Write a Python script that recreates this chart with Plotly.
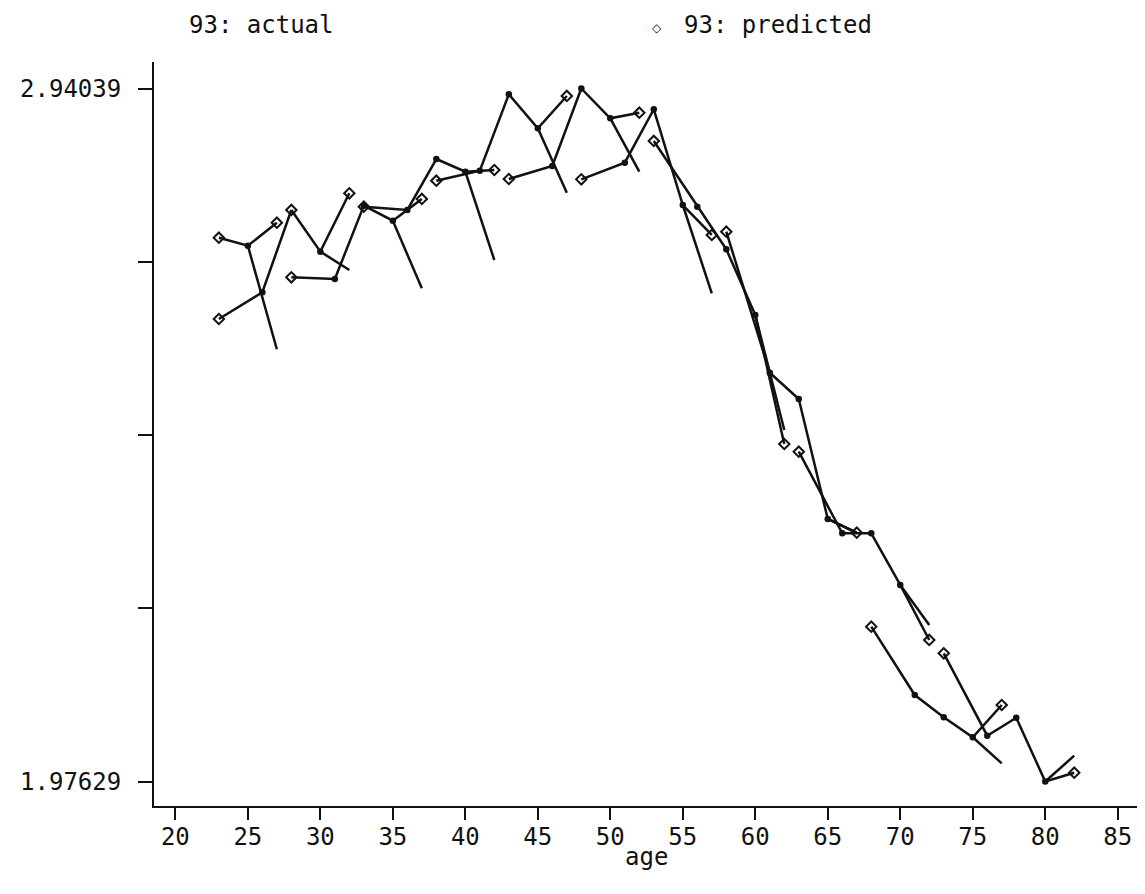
import plotly.graph_objects as go

# ---- data ----
base_age = [23, 28, 33, 38, 43, 48, 53, 58, 63, 68, 73, 78]
# actual value at the group's first age (b)
actual_b = [2.7328, 2.7714, 2.7774, 2.8423, 2.9323, 2.94039, 2.9115, 2.7167, 2.5084, 2.3216, 2.0656, 2.0650]
# actual value at age b+2
actual_b2 = [2.7217, 2.7134, 2.7565, 2.8247, 2.8850, 2.8989, 2.7783, 2.6253, 2.3415, 2.2497, 2.0378, 1.97629]
# predicted value at age b+4
pred_b4 = [2.7537, 2.7946, 2.7867, 2.8270, 2.9300, 2.9067, 2.7366, 2.4458, 2.3225, 2.1732, 2.0827, 1.9885]
# end of the second actual segment at age b+4
actual_b4 = [2.5776, 2.6879, 2.6624, 2.7018, 2.7954, 2.8247, 2.6555, 2.4653, 2.3220, 2.1940, 2.0016, 2.0122]
# predicted value at age b
pred_b = [2.6197, 2.6777, 2.7760, 2.8121, 2.8145, 2.8140, 2.8674, 2.7412, 2.4351, 2.1917, 2.1546, None]
# actual value at age b+3
actual_b3 = [2.6569, 2.6754, 2.7714, 2.8260, 2.8326, 2.8372, 2.7760, 2.5450, 2.3216, 2.0966, 2.0400, None]

x_ticks = [20, 25, 30, 35, 40, 45, 50, 55, 60, 65, 70, 75, 80, 85]
y_ticks = [1.97629, 2.21731, 2.45834, 2.69936, 2.94039]
y_ticktext = ["1.97629", "", "", "", "2.94039"]

FONT = "DejaVu Sans Mono, Liberation Mono, monospace"
INK = "#111111"

# ---- build polylines ----
lx, ly = [], []
n = len(base_age)
for i, b in enumerate(base_age):
    lx += [b, b + 2, b + 4, None]
    ly += [actual_b[i], actual_b2[i], pred_b4[i], None]
    lx += [b + 2, b + 4, None]
    ly += [actual_b2[i], actual_b4[i], None]
    if pred_b[i] is not None and i + 1 < n:
        lx += [b, b + 3, b + 5, None]
        ly += [pred_b[i], actual_b3[i], actual_b[i + 1], None]

# junction points (dark blobs)
jx, jy = [], []
for i, b in enumerate(base_age):
    if i >= 2:
        jx.append(b); jy.append(actual_b[i])
    jx.append(b + 2); jy.append(actual_b2[i])
    if actual_b3[i] is not None:
        jx.append(b + 3); jy.append(actual_b3[i])

# open diamonds (predicted)
dx, dy = [], []
for i, b in enumerate(base_age):
    if pred_b[i] is not None:
        dx.append(b); dy.append(pred_b[i])
    dx.append(b + 4); dy.append(pred_b4[i])
    if i < 2:
        dx.append(b); dy.append(actual_b[i])

fig = go.Figure()
fig.add_trace(go.Scatter(x=lx, y=ly, mode="lines", name="93: actual",
                         line=dict(color=INK, width=2.5), showlegend=False,
                         connectgaps=False))
fig.add_trace(go.Scatter(x=jx, y=jy, mode="markers", name="93: actual",
                         marker=dict(symbol="circle", size=6.5, color=INK),
                         showlegend=False))
fig.add_trace(go.Scatter(x=dx, y=dy, mode="markers", name="93: predicted",
                         marker=dict(symbol="diamond-open", size=8, color=INK,
                                     line=dict(width=2, color=INK)),
                         showlegend=False))

# page body adds an 8px offset; compensate in the margins
OFF = 8
W, H = 1145, 894
PL, PT, PR, PB = 148, 62, 1140, 806          # plot box on screen
L = PL - OFF
T = PT - OFF
pw = PR - PL
ph = PB - PT
R = W - L - pw
B = H - T - ph

def px(xs):
    return (xs - PL) / pw

def py(ys):
    return (PB - ys) / ph

fig.add_annotation(x=px(181), y=py(25), xref="paper", yref="paper",
                   text="93: actual", showarrow=False, xanchor="left",
                   yanchor="middle", font=dict(family=FONT, size=24, color=INK))
fig.add_annotation(x=px(654), y=py(28), xref="paper", yref="paper",
                   text="<b>◇</b>", showarrow=False, xanchor="center",
                   yanchor="middle", font=dict(family="DejaVu Sans", size=12, color=INK))
fig.add_annotation(x=px(679), y=py(25), xref="paper", yref="paper",
                   text="93: predicted", showarrow=False, xanchor="left",
                   yanchor="middle", font=dict(family=FONT, size=24, color=INK))
# x-axis title placed like the reference
fig.add_annotation(x=px(643), y=py(857), xref="paper", yref="paper",
                   text="age", showarrow=False, xanchor="center",
                   yanchor="middle", font=dict(family=FONT, size=24, color=INK))

# axis ranges from pixel calibration (screen coords)
x_per_px = 5 / 72.93
x0 = 20 - (169.5 - PL) * x_per_px
x1 = x0 + pw * x_per_px
y_per_px = (2.94039 - 1.97629) / 693.0
y_top = 2.94039 + (88.5 - PT) * y_per_px
y_bot = 1.97629 - (PB - 781.5) * y_per_px

fig.update_layout(
    width=W, height=H,
    margin=dict(l=L, r=R, t=T, b=B),
    paper_bgcolor="white", plot_bgcolor="white",
    font=dict(family=FONT, size=24, color=INK),
    xaxis=dict(range=[x0, x1], tickvals=x_ticks, ticks="outside", ticklen=12,
               tickwidth=1.5, tickcolor=INK, showline=True, linecolor=INK,
               linewidth=2, showgrid=False, zeroline=False,
               ticklabelstandoff=-4,
               tickfont=dict(family=FONT, size=24, color=INK)),
    yaxis=dict(range=[y_bot, y_top], tickvals=y_ticks, ticktext=y_ticktext,
               ticks="outside", ticklen=14, tickwidth=1.5, tickcolor=INK,
               ticklabelstandoff=12,
               showline=True, linecolor=INK, linewidth=2, showgrid=False,
               zeroline=False,
               tickfont=dict(family=FONT, size=24, color=INK)),
)

fig.write_html("out.html")
